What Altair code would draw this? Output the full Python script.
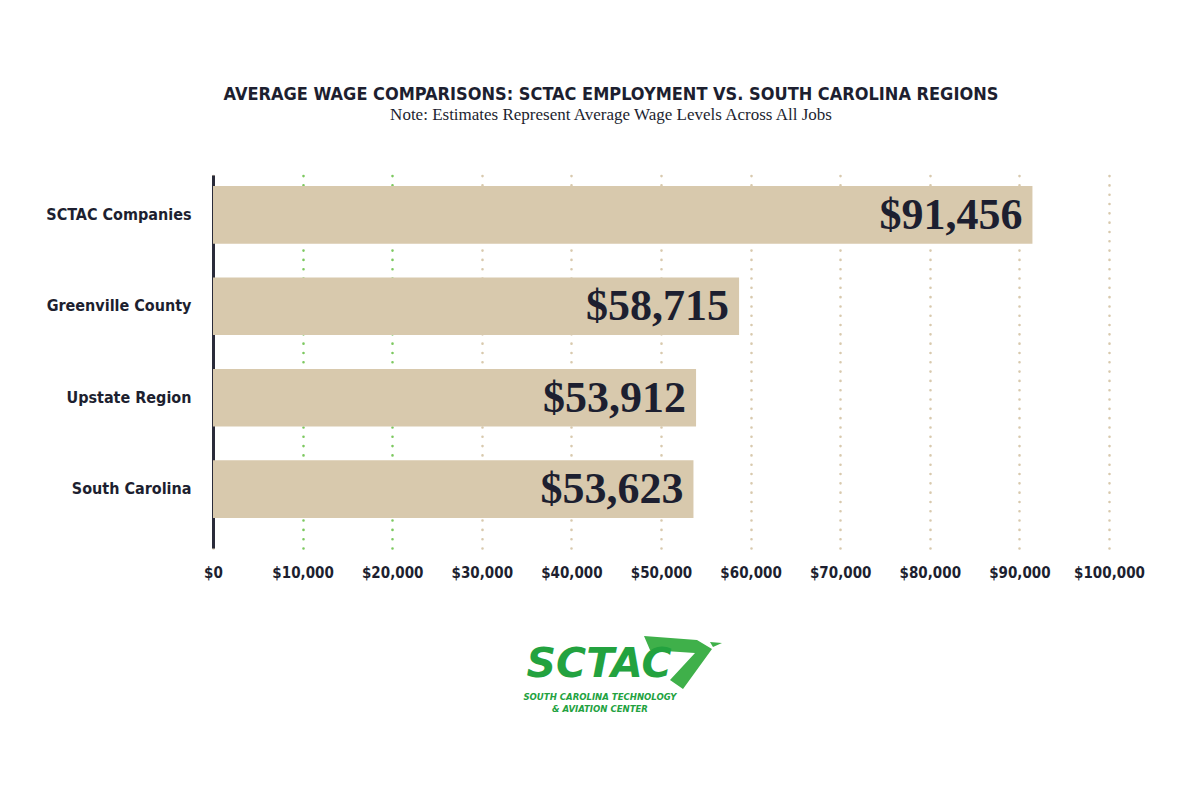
import altair as alt
import pandas as pd

categories = ["SCTAC Companies", "Greenville County", "Upstate Region", "South Carolina"]
wages = [91456, 58715, 53912, 53623]
wage_labels = ["$91,456", "$58,715", "$53,912", "$53,623"]
tick_values = [0, 10000, 20000, 30000, 40000, 50000, 60000, 70000, 80000, 90000, 100000]
green_ticks = [10000, 20000]
title_text = "AVERAGE WAGE COMPARISONS: SCTAC EMPLOYMENT VS. SOUTH CAROLINA REGIONS"
subtitle_text = "Note: Estimates Represent Average Wage Levels Across All Jobs"
logo_word = ["SCTAC"]
logo_lines = ["SOUTH CAROLINA TECHNOLOGY", "& AVIATION CENTER"]

DARK = "#1d1f30"
TAN = "#d8c9ad"
GREEN_GRID = "#7cc85f"
LOGO_GREEN = "#23a23f"
COND = "DejaVu Sans Condensed"

df = pd.DataFrame({"region": categories, "wage": wages, "label": wage_labels})

grid_test = " || ".join(f"datum.value == {v}" for v in green_ticks)

x_enc = alt.X(
    "wage:Q",
    scale=alt.Scale(domain=[0, 100000], nice=False),
    axis=alt.Axis(
        values=tick_values, format="$,d", title=None, labelOverlap=False, labelFlush=False,
        grid=True,
        gridColor={"condition": {"test": grid_test, "value": GREEN_GRID}, "value": TAN},
        gridDash=[0.01, 9.3], gridWidth=2.6, gridCap="round",
        domain=False, ticks=False, labelPadding=17,
        labelFont=COND, labelFontSize=15, labelFontWeight="bold", labelColor=DARK,
    ),
)
y_enc = alt.Y(
    "region:N", sort=categories,
    scale=alt.Scale(paddingInner=0.37, paddingOuter=0.225, align=0.27),
    axis=alt.Axis(
        title=None, grid=False, ticks=False, domain=True,
        domainColor="#2a2b3a", domainWidth=3, labelPadding=22,
        labelFont=COND, labelFontSize=16, labelFontWeight="bold", labelColor=DARK,
    ),
)

bars = alt.Chart(df).mark_bar(color=TAN).encode(x=x_enc, y=y_enc)
labels = alt.Chart(df).mark_text(
    align="right", baseline="middle", dx=-10, dy=1,
    font="Liberation Serif", fontWeight="bold", fontSize=44, color=DARK,
).encode(x="wage:Q", y=alt.Y("region:N", sort=categories), text="label:N")

logo_df = pd.DataFrame({"t": logo_word})
logo_word_layer = alt.Chart(logo_df).mark_text(
    align="center", baseline="alphabetic", font="DejaVu Sans", fontWeight="bold",
    fontStyle="italic", fontSize=41, color=LOGO_GREEN,
).encode(x=alt.value(386), y=alt.value(502), text="t:N")

lines_df = pd.DataFrame({"t": ["\n".join(logo_lines)]})
logo_lines_layer = alt.Chart(lines_df).mark_text(
    align="center", baseline="alphabetic", font=COND, fontWeight="bold",
    fontStyle="italic", fontSize=9.5, color=LOGO_GREEN, lineHeight=12, lineBreak="\n",
).encode(x=alt.value(387), y=alt.value(525), text="t:N")

shape_path = ("M-36,-29 L17,-25 L32,-16 L3,24 L-10,15 L15,-12 L-30,-15 Z "
              "M30,-23 L42,-22 L33,-18 Z")
logo_shape = alt.Chart(logo_df).mark_point(
    shape=shape_path, size=4, filled=True, color="#3fb04a", opacity=1, strokeWidth=0,
).encode(x=alt.value(467), y=alt.value(490))

chart = alt.layer(bars, labels, logo_shape, logo_word_layer, logo_lines_layer).properties(
    width=896, height=373,
    autosize=alt.AutoSizeParams(type="none"),
    padding={"left": 205, "top": 167, "right": 83, "bottom": 250},
    background="white",
    title=alt.TitleParams(
        text=title_text, subtitle=subtitle_text, anchor="middle", dx=-50,
        font=COND, fontSize=18, fontWeight="bold", color=DARK,
        subtitleFont="Liberation Serif", subtitleFontSize=17, subtitleColor=DARK,
        subtitlePadding=3, offset=52,
    ),
).configure_view(stroke=None)

chart.save("out.html", embed_options={"renderer": "svg", "actions": False})
